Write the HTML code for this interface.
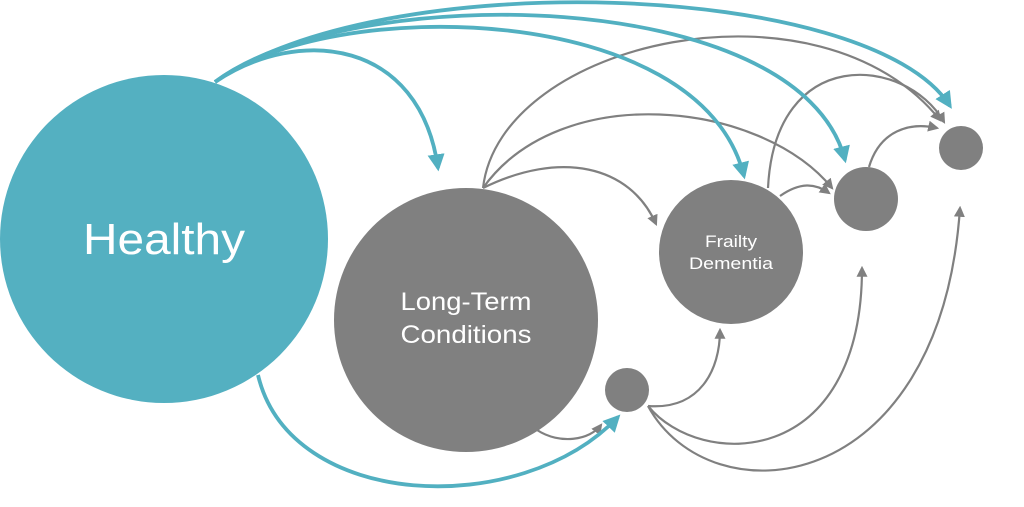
<!DOCTYPE html>
<html><head><meta charset="utf-8"><style>
html,body{margin:0;padding:0;background:#fff;}
svg{display:block;}
text{font-family:"Liberation Sans",sans-serif;fill:#fff;}
</style></head><body>
<svg width="1024" height="507" viewBox="0 0 1024 507" xmlns="http://www.w3.org/2000/svg">
<defs>
<marker id="ta" viewBox="0 0 10 10" refX="8" refY="5" markerWidth="4.5" markerHeight="4.5" orient="auto" markerUnits="strokeWidth"><path d="M0,0 L10,5 L0,10 z" fill="#52b0c1"/></marker>
<marker id="ga" viewBox="0 0 10 10" refX="8" refY="5" markerWidth="5" markerHeight="5" orient="auto" markerUnits="strokeWidth"><path d="M0,0 L10,5 L0,10 z" fill="#808080"/></marker>
</defs>
<circle cx="164" cy="239" r="164" fill="#54b0c1"/>
<circle cx="466" cy="320" r="132" fill="#808080"/>
<circle cx="731" cy="252" r="72" fill="#808080"/>
<circle cx="627" cy="390" r="22" fill="#808080"/>
<circle cx="866" cy="199" r="32" fill="#808080"/>
<circle cx="961" cy="148" r="22" fill="#808080"/>

<g fill="none" stroke="#808080" stroke-width="2.2" marker-end="url(#ga)">
<path d="M483,188 C500,40 820,-30 940,120"/>
<path d="M483,188 C560,80 760,100 832,188"/>
<path d="M483,188 C560,150 630,165 656,224"/>
<path d="M768,188 C775,45 905,55 944,122"/>
<path d="M780,196 C800,182 815,183 829,193"/>
<path d="M869,167 C880,130 910,122 937,128"/>
<path d="M537,430 C560,445 590,440 601,425"/>
<path d="M648,406 C700,410 720,370 720,330"/>
<path d="M648,406 C700,470 862,470 862,268"/>
<path d="M648,406 C710,520 940,500 960,208"/>
</g>
<g fill="none" stroke="#52b0c1" stroke-width="3.8" marker-end="url(#ta)">
<path d="M215,82 C300,25 420,40 438,168"/>
<path d="M215,82 C330,-5 700,0 744,176"/>
<path d="M215,82 C350,-20 800,-15 845,160"/>
<path d="M215,82 C380,-35 870,-20 950,106"/>
<path d="M258,375 C290,510 520,520 618,417"/>
</g>

<text x="164" y="254" font-size="44" text-anchor="middle" textLength="162" lengthAdjust="spacingAndGlyphs">Healthy</text>
<text x="466" y="310" font-size="25" text-anchor="middle" textLength="131" lengthAdjust="spacingAndGlyphs">Long-Term</text>
<text x="466" y="343" font-size="25" text-anchor="middle" textLength="131" lengthAdjust="spacingAndGlyphs">Conditions</text>
<text x="731" y="247" font-size="17" text-anchor="middle" textLength="52" lengthAdjust="spacingAndGlyphs">Frailty</text>
<text x="731" y="269" font-size="17" text-anchor="middle" textLength="84" lengthAdjust="spacingAndGlyphs">Dementia</text>
</svg>
</body></html>
